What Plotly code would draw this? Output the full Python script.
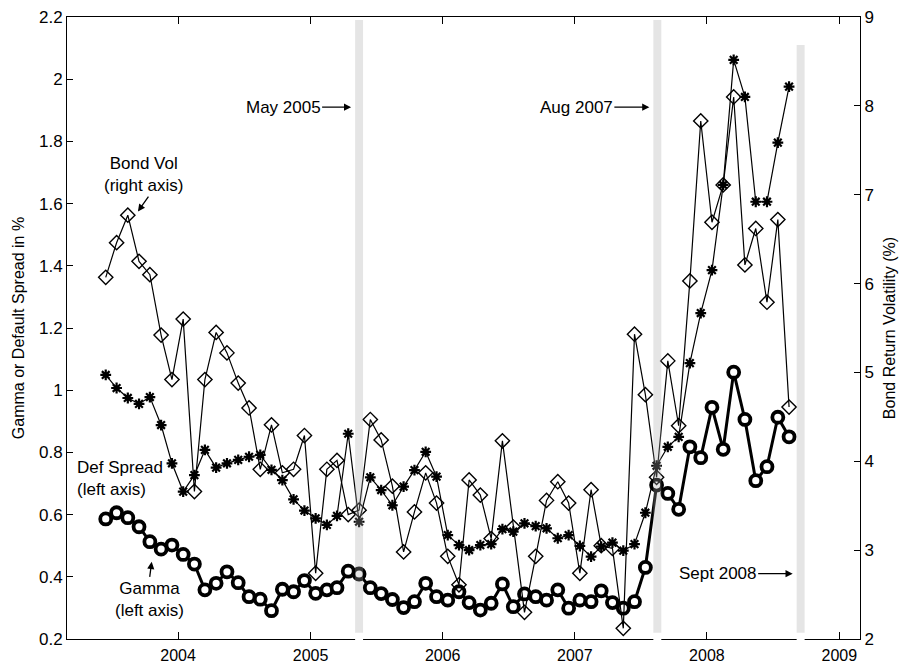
import plotly.graph_objects as go
import pandas as pd

# Monthly observations, mid-month, Jun 2003 - Aug 2008
dates = pd.date_range("2003-06-01", "2008-08-01", freq="MS") + pd.Timedelta(days=14)

# Gamma (left axis, %)
gamma = [
    0.586, 0.606, 0.590, 0.561, 0.513, 0.489, 0.502,            # 2003
    0.472, 0.441, 0.358, 0.379, 0.416, 0.381, 0.336, 0.328,     # 2004
    0.291, 0.360, 0.352, 0.388,
    0.347, 0.358, 0.365, 0.418, 0.409, 0.365, 0.346, 0.327,     # 2005
    0.301, 0.320, 0.379, 0.336,
    0.325, 0.352, 0.317, 0.293, 0.315, 0.377, 0.304, 0.345,     # 2006
    0.336, 0.325, 0.358, 0.299,
    0.325, 0.320, 0.355, 0.317, 0.299, 0.320, 0.430, 0.695,     # 2007
    0.668, 0.617, 0.818, 0.783,
    0.945, 0.810, 1.058, 0.906, 0.709, 0.754, 0.913, 0.850,     # 2008
]

# Default spread (left axis, %)
def_spread = [
    1.049, 1.007, 0.975, 0.956, 0.978, 0.888, 0.765,
    0.674, 0.727, 0.808, 0.751, 0.765, 0.776, 0.786, 0.792,
    0.744, 0.711, 0.649, 0.613,
    0.588, 0.567, 0.596, 0.860, 0.577, 0.720, 0.679, 0.630,
    0.690, 0.743, 0.802, 0.722,
    0.534, 0.502, 0.486, 0.502, 0.505, 0.553, 0.545, 0.572,
    0.563, 0.556, 0.524, 0.534,
    0.499, 0.465, 0.497, 0.510, 0.484, 0.505, 0.606, 0.757,
    0.818, 0.850, 1.087, 1.248,
    1.386, 1.660, 2.062, 1.943, 1.606, 1.606, 1.796, 1.976,
]

# Bond return volatility (right axis, %)
bond_vol = [
    6.07, 6.46, 6.77, 6.25, 6.10, 5.42, 4.92,
    5.60, 3.66, 4.92, 5.45, 5.22, 4.88, 4.60, 3.91,
    4.41, 3.87, 3.91, 4.29,
    2.74, 3.91, 4.01, 3.40, 3.45, 4.47, 4.24, 3.72,
    2.98, 3.43, 3.87, 3.53,
    2.93, 2.61, 3.79, 3.62, 3.13, 4.23, 3.26, 2.30,
    2.93, 3.56, 3.77, 3.53,
    2.74, 3.68, 3.05, 3.02, 2.12, 5.43, 4.75, 3.82,
    5.13, 4.40, 6.03, 7.83,
    6.69, 7.11, 8.10, 6.21, 6.62, 5.79, 6.72, 4.61,
]

left_ticks = [0.2, 0.4, 0.6, 0.8, 1.0, 1.2, 1.4, 1.6, 1.8, 2.0, 2.2]
left_labels = ["0.2", "0.4", "0.6", "0.8", "1", "1.2", "1.4", "1.6", "1.8", "2", "2.2"]
right_ticks = [2, 3, 4, 5, 6, 7, 8, 9]
year_ticks = ["2004-01-01", "2005-01-01", "2006-01-01", "2007-01-01", "2008-01-01", "2009-01-01"]
year_labels = ["2004", "2005", "2006", "2007", "2008", "2009"]

# Event markers: (start, end, label, label y, band top in paper units, label offset px)
events = [
    ("2005-05-04", "2005-05-26", "May 2005", 1.91, 0.995, -68),
    ("2007-08-06", "2007-08-28", "Aug 2007", 1.91, 0.995, -73),
    ("2008-09-05", "2008-09-27", "Sept 2008", 0.41, 0.955, -75),
]

FONT = "Liberation Sans, Arial, Helvetica, sans-serif"
TXT = dict(size=17, color="black", family=FONT)

fig = go.Figure()

fig.add_trace(go.Scatter(
    x=dates, y=bond_vol, yaxis="y2", mode="lines+markers", name="Bond Vol",
    line=dict(color="black", width=1.2),
    marker=dict(symbol="diamond-open", size=11, color="black", line=dict(width=1.4)),
))
fig.add_trace(go.Scatter(
    x=dates, y=def_spread, mode="lines+markers", name="Def Spread",
    line=dict(color="black", width=1.2),
    marker=dict(symbol="asterisk-open", size=9, color="black", line=dict(width=2.2, color="black")),
))
fig.add_trace(go.Scatter(
    x=dates, y=gamma, mode="lines+markers", name="Gamma",
    line=dict(color="black", width=3),
    marker=dict(symbol="circle", size=11, color="white", line=dict(width=3.8, color="black")),
))

shapes = []
annotations = []
for x0, x1, label, ly, top, ax in events:
    # break in the bottom axis line under each event band
    shapes.append(dict(type="rect", xref="x", yref="paper", x0=x0, x1=x1, y0=-0.006, y1=0.01,
                       fillcolor="white", line=dict(width=0), layer="above"))
    shapes.append(dict(type="rect", xref="x", yref="paper", x0=x0, x1=x1, y0=0.01, y1=top,
                       fillcolor="rgba(170,170,170,0.30)", line=dict(width=0), layer="above"))
    mid = pd.Timestamp(x0) + (pd.Timestamp(x1) - pd.Timestamp(x0)) / 2
    annotations.append(dict(x=mid - pd.Timedelta(days=22), y=ly, xref="x", yref="y",
                            text=label, showarrow=True, ax=ax, ay=0,
                            arrowhead=2, arrowsize=1.1, arrowwidth=1.3, arrowcolor="black",
                            font=TXT))

# Series labels
annotations += [
    dict(x="2003-09-27", y=1.692, text="Bond Vol<br>(right axis)", showarrow=False,
         font=TXT, align="center"),
    dict(x="2003-09-12", y=1.575, ax="2003-10-14", ay=1.627, axref="x", ayref="y",
         text="", showarrow=True, arrowhead=2, arrowsize=1.1, arrowwidth=1.3, arrowcolor="black"),
    dict(x="2003-03-22", y=0.716, text="Def Spread<br>(left axis)", showarrow=False,
         xanchor="left", align="left", font=TXT),
    dict(x="2003-10-14", y=0.326, text="Gamma<br>(left axis)", showarrow=False,
         font=TXT, align="center"),
    dict(x="2003-10-20", y=0.448, ax="2003-10-14", ay=0.395, axref="x", ayref="y",
         text="", showarrow=True, arrowhead=2, arrowsize=1.1, arrowwidth=1.3, arrowcolor="black"),
]

fig.update_layout(
    width=904, height=667,
    margin=dict(l=67, r=44, t=17, b=28),
    paper_bgcolor="white", plot_bgcolor="white",
    showlegend=False,
    font=dict(family=FONT, size=17, color="black"),
    shapes=shapes, annotations=annotations,
    xaxis=dict(
        range=["2003-02-28", "2009-02-27"],
        tickvals=year_ticks, ticktext=year_labels,
        ticks="inside", ticklen=7, tickwidth=1, tickcolor="black",
        showline=True, linecolor="black", linewidth=1, mirror="ticks",
        showgrid=False, zeroline=False, ticklabelstandoff=2, automargin=False,
        tickfont=dict(size=16, family=FONT),
    ),
    yaxis=dict(
        range=[0.2, 2.2], tickvals=left_ticks, ticktext=left_labels,
        ticks="inside", ticklen=6, tickwidth=1, tickcolor="black",
        showline=True, linecolor="black", linewidth=1,
        showgrid=False, zeroline=False, automargin=False,
        title=dict(text="Gamma or Default Spread in %", font=dict(size=16, family=FONT), standoff=10),
        tickfont=dict(size=17, family=FONT),
    ),
    yaxis2=dict(
        range=[2, 9], tickvals=right_ticks, overlaying="y", side="right",
        ticks="inside", ticklen=6, tickwidth=1, tickcolor="black",
        showline=True, linecolor="black", linewidth=1,
        showgrid=False, zeroline=False, automargin=False,
        title=dict(text="Bond Return Volatility (%)", font=dict(size=16, family=FONT), standoff=10),
        tickfont=dict(size=17, family=FONT),
    ),
)

fig.write_html("out.html")
